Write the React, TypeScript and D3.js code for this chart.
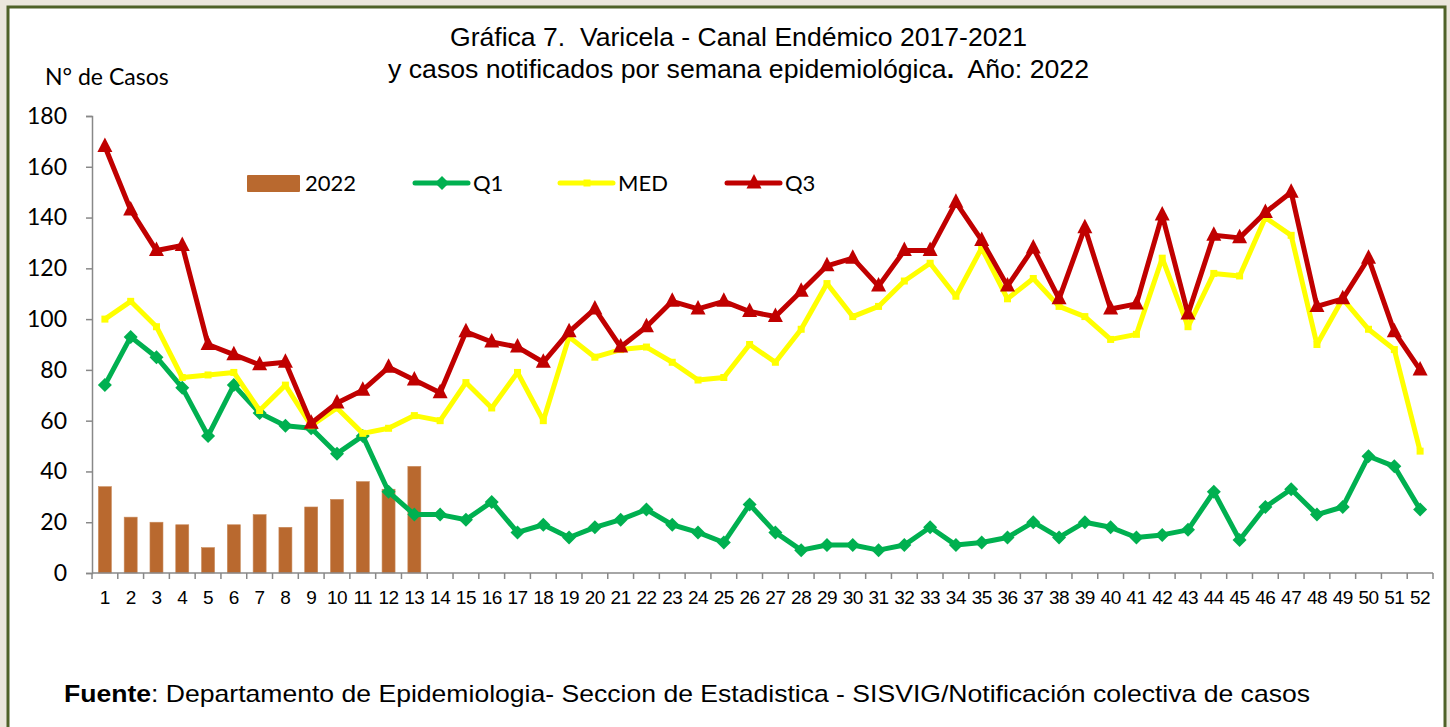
import React, { useRef, useEffect } from "react";
import * as d3 from "d3";

const weeks = d3.range(1, 53).map(String);

const cases2022 = [34, 22, 20, 19, 10, 19, 23, 18, 26, 29, 36, 33, 42];

const q1 = [
    74, 93, 85, 73, 54, 74, 63, 58, 57, 47, 54, 32, 23, 23, 21, 28, 16, 19, 14, 18, 21, 25, 19, 16, 12, 27,
    16, 9, 11, 11, 9, 11, 18, 11, 12, 14, 20, 14, 20, 18, 14, 15, 17, 32, 13, 26, 33, 23, 26, 46, 42, 25,
];

const med = [
    100, 107, 97, 77, 78, 79, 64, 74, 58, 65, 55, 57, 62, 60, 75, 65, 79, 60, 93, 85, 88, 89, 83, 76, 77, 90,
    83, 96, 114, 101, 105, 115, 122, 109, 128, 108, 116, 105, 101, 92, 94, 124, 97, 118, 117, 140, 133, 90, 108, 96, 88, 48,
];

const q3 = [
    168, 143, 127, 129, 90, 86, 82, 83, 59, 67, 72, 81, 76, 71, 95, 91, 89, 83, 95, 104, 89, 97, 107, 104, 107, 103,
    101, 111, 121, 124, 113, 127, 127, 146, 131, 113, 128, 108, 136, 104, 106, 141, 102, 133, 132, 142, 150, 105, 108, 124, 95, 80,
];

const yTicks = [0, 20, 40, 60, 80, 100, 120, 140, 160, 180];

const App = () => {
    const d3Container = useRef(null);

    useEffect(() => {
        if (!d3Container.current) return;
        const svg = d3.select(d3Container.current);
        svg.selectAll("*").remove();

        const W = 1450;
        const H = 727;
        const calibri = "Lato, 'Open Sans', sans-serif";
        const arial = "'Liberation Sans', Arial, sans-serif";

        // page background + framed box
        svg.append("rect").attr("width", W).attr("height", H).attr("fill", "#ebe7dc");
        svg.append("rect")
            .attr("x", 8)
            .attr("y", 7)
            .attr("width", 1437)
            .attr("height", 740)
            .attr("fill", "#ffffff")
            .attr("stroke", "#4f6228")
            .attr("stroke-width", 3);

        const left = 92;
        const right = 1433;
        const top = 116;
        const bottom = 573;

        const x = d3.scaleBand().domain(weeks).range([left, right]);
        const y = d3.scaleLinear().domain([0, 180]).range([bottom, top]);
        const cx = (i) => x(weeks[i]) + x.bandwidth() / 2;

        // titles
        svg.append("text")
            .attr("x", 450)
            .attr("y", 46)
            .attr("font-family", arial)
            .attr("font-size", 25)
            .attr("textLength", 577)
            .attr("lengthAdjust", "spacingAndGlyphs")
            .style("white-space", "pre")
            .text("Gráfica 7.  Varicela - Canal Endémico 2017-2021");
        const l2 = svg.append("text")
            .attr("x", 388)
            .attr("y", 78)
            .attr("font-family", arial)
            .attr("font-size", 25)
            .attr("textLength", 701)
            .attr("lengthAdjust", "spacingAndGlyphs")
            .style("white-space", "pre");
        l2.append("tspan").text("y casos notificados por semana epidemiológica");
        l2.append("tspan").attr("font-weight", "bold").text(".");
        l2.append("tspan").text("  Año: 2022");

        svg.append("text")
            .attr("x", 45)
            .attr("y", 85)
            .attr("font-family", calibri)
            .attr("font-size", 23)
            .text("N° de Casos");

        // y axis
        const yAxis = svg.append("g")
            .attr("transform", `translate(${left},0)`)
            .call(d3.axisLeft(y).tickValues(yTicks).tickSize(6).tickPadding(19));
        yAxis.select(".domain").attr("stroke", "#888").attr("stroke-width", 1.5);
        yAxis.selectAll(".tick line").attr("stroke", "#888").attr("stroke-width", 1.5);
        yAxis.selectAll(".tick text")
            .attr("font-family", calibri)
            .attr("font-size", 23)
            .attr("fill", "#000");

        // bars
        svg.append("g")
            .selectAll("rect")
            .data(cases2022)
            .join("rect")
            .attr("x", (d, i) => cx(i) - 6.5)
            .attr("width", 13)
            .attr("y", (d) => y(d))
            .attr("height", (d) => y(0) - y(d))
            .attr("fill", "#b9692f")
            .attr("stroke", "#c98a5a")
            .attr("stroke-width", 0.6);

        // x axis
        const xAxis = svg.append("g").attr("transform", `translate(0,${bottom})`);
        xAxis.append("line")
            .attr("x1", left)
            .attr("x2", right)
            .attr("stroke", "#888")
            .attr("stroke-width", 1.5);
        xAxis.selectAll(".tk")
            .data(d3.range(0, 53))
            .join("line")
            .attr("class", "tk")
            .attr("x1", (i) => left + i * x.step())
            .attr("x2", (i) => left + i * x.step())
            .attr("y1", 0)
            .attr("y2", 6)
            .attr("stroke", "#888")
            .attr("stroke-width", 1.5);
        xAxis.selectAll("text")
            .data(weeks)
            .join("text")
            .attr("x", (d, i) => cx(i))
            .attr("y", 31)
            .attr("text-anchor", "middle")
            .attr("font-family", arial)
            .attr("font-size", 19)
            .attr("letter-spacing", -0.5)
            .text((d) => d);

        const line = d3.line().x((d, i) => cx(i)).y((d) => y(d));

        const drawSeries = (data, color, marker) => {
            svg.append("path")
                .datum(data)
                .attr("fill", "none")
                .attr("stroke", color)
                .attr("stroke-width", 5)
                .attr("stroke-linejoin", "round")
                .attr("d", line);
            svg.append("g")
                .selectAll("path")
                .data(data)
                .join("path")
                .attr("transform", (d, i) => `translate(${cx(i)},${y(d)})`)
                .attr("fill", color)
                .attr("d", marker);
        };

        const diamond = "M0,-7L7,0L0,7L-7,0Z";
        const square = "M-3.5,-3.5H3.5V3.5H-3.5Z";
        const triangle = "M0,-9L7.5,5.5H-7.5Z";

        drawSeries(q1, "#00b050", diamond);
        drawSeries(med, "#ffff00", square);
        drawSeries(q3, "#c00000", triangle);

        // legend
        const lg = svg.append("g").attr("font-family", calibri).attr("font-size", 22);
        lg.append("rect").attr("x", 247).attr("y", 175).attr("width", 53).attr("height", 17).attr("fill", "#b9692f").attr("rx", 1);
        lg.append("text").attr("x", 305).attr("y", 191).text("2022");
        const items = [
            { name: "Q1", color: "#00b050", marker: diamond, x0: 415 },
            { name: "MED", color: "#ffff00", marker: square, x0: 560 },
            { name: "Q3", color: "#c00000", marker: triangle, x0: 727 },
        ];
        items.forEach((it) => {
            lg.append("line")
                .attr("x1", it.x0)
                .attr("x2", it.x0 + 53)
                .attr("y1", 183)
                .attr("y2", 183)
                .attr("stroke", it.color)
                .attr("stroke-width", 5)
                .attr("stroke-linecap", "round");
            lg.append("path").attr("transform", `translate(${it.x0 + 27},183)`).attr("fill", it.color).attr("d", it.marker);
            lg.append("text").attr("x", it.x0 + 58).attr("y", 191).text(it.name);
        });

        // footer
        const ft = svg.append("text")
            .attr("x", 64)
            .attr("y", 702)
            .attr("font-family", arial)
            .attr("font-size", 24)
            .attr("textLength", 1246)
            .attr("lengthAdjust", "spacingAndGlyphs");
        ft.append("tspan").attr("font-weight", "bold").text("Fuente");
        ft.append("tspan").text(": Departamento de Epidemiologia- Seccion de Estadistica - SISVIG/Notificación colectiva de casos");
    }, []);

    return (
        <svg
            ref={d3Container}
            width={1450}
            height={727}
            style={{ position: "absolute", left: 0, top: 0 }}
        />
    );
};

export default App;
